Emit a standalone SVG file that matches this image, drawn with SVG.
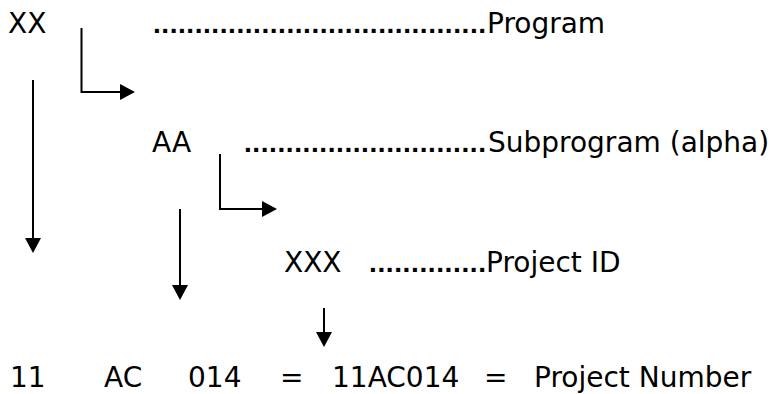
<svg xmlns="http://www.w3.org/2000/svg" width="776" height="394" viewBox="0 0 776 394">
  <style>
    .t { font-family: "DejaVu Sans", "Liberation Sans", sans-serif; font-size: 28px; fill: #000; }
    .d { font-family: "Liberation Sans", Arial, sans-serif; font-size: 28px; font-weight: bold; fill: #000; }
    .c { stroke: #000; stroke-width: 2; fill: none; }
  </style>
  <defs>
    <marker id="ah" markerUnits="userSpaceOnUse" markerWidth="15" markerHeight="16" refX="0" refY="8" orient="auto" viewBox="0 0 15 16">
      <path d="M0,0 L15,8 L0,16 z" fill="#000"/>
    </marker>
  </defs>
  <rect width="776" height="394" fill="#fff"/>

  <g id="program">
    <text class="t" x="8" y="33">XX</text>
    <text class="d" x="153" y="33" textLength="333" lengthAdjust="spacing">........................................</text>
    <text class="t" x="487" y="33">Program</text>
  </g>

  <g id="subprogram">
    <text class="t" x="152" y="152">AA</text>
    <text class="d" x="244" y="152" textLength="242" lengthAdjust="spacing">.............................</text>
    <text class="t" x="488" y="152">Subprogram (alpha)</text>
  </g>

  <g id="project-id">
    <text class="t" x="284" y="272">XXX</text>
    <text class="d" x="369" y="272" textLength="117" lengthAdjust="spacing">..............</text>
    <text class="t" x="486" y="272">Project ID</text>
  </g>

  <g id="project-number">
    <text class="t" x="10" y="387">11</text>
    <text class="t" x="104" y="387">AC</text>
    <text class="t" x="188" y="387">014</text>
    <text class="t" x="280" y="387">=</text>
    <text class="t" x="332" y="387">11AC014</text>
    <text class="t" x="484" y="387">=</text>
    <text class="t" x="534" y="387">Project Number</text>
  </g>

  <g id="connectors">
    <path class="c" d="M81.5,28 V92 H120" marker-end="url(#ah)"/>
    <path class="c" d="M33,80 V238" marker-end="url(#ah)"/>
    <path class="c" d="M220,154 V209 H262" marker-end="url(#ah)"/>
    <path class="c" d="M180,209 V285" marker-end="url(#ah)"/>
    <path class="c" d="M324,308 V332" marker-end="url(#ah)"/>
  </g>
</svg>
